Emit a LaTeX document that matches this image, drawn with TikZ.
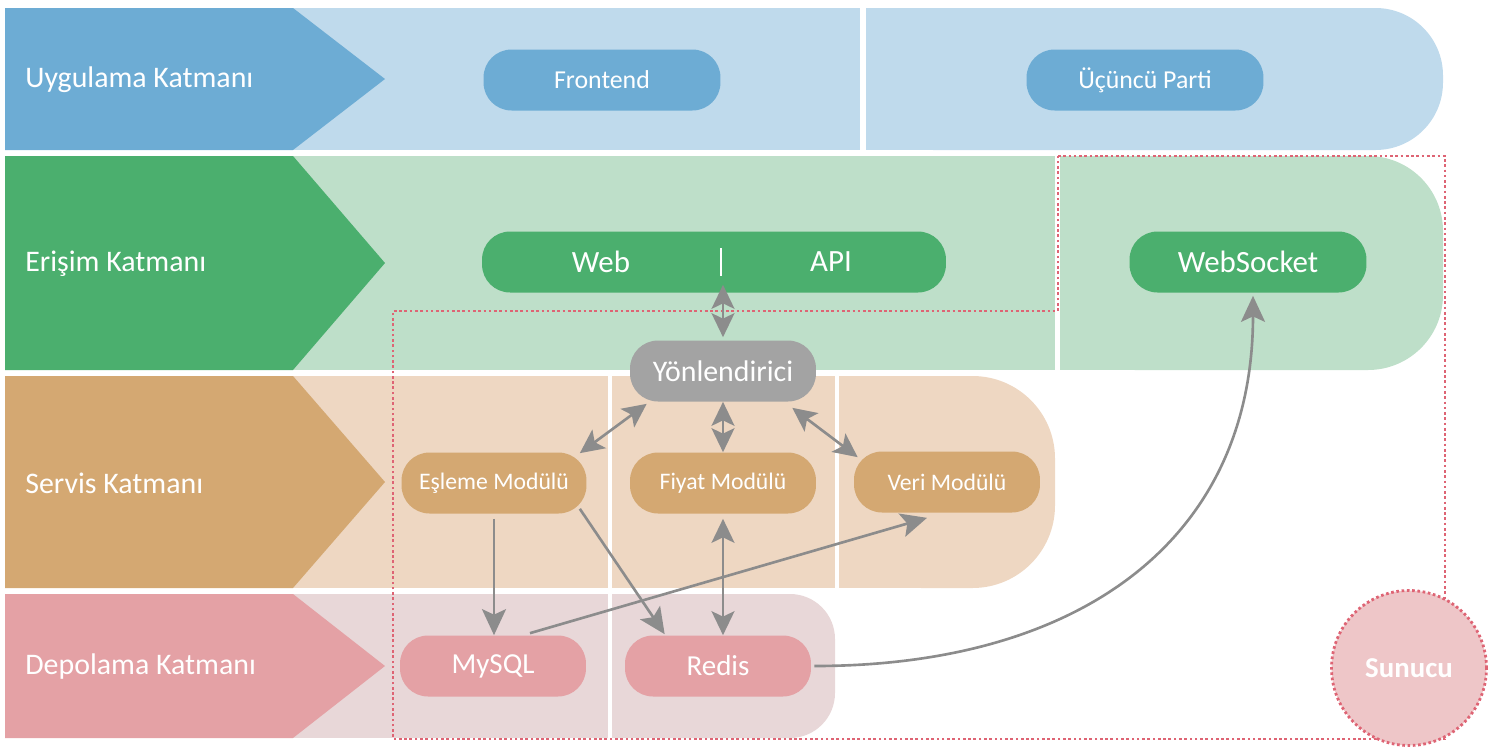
\documentclass[tikz,border=0pt]{standalone}
\usepackage{fontspec}
\setmainfont{Carlito}
\usetikzlibrary{arrows.meta}

\definecolor{appdark}{HTML}{6DACD4}
\definecolor{applight}{HTML}{BFDAEC}
\definecolor{accdark}{HTML}{4BAF6E}
\definecolor{acclight}{HTML}{BEDFC9}
\definecolor{srvdark}{HTML}{D4A872}
\definecolor{srvlight}{HTML}{EED7C2}
\definecolor{stodark}{HTML}{E4A1A5}
\definecolor{stolight}{HTML}{E8D7D8}
\definecolor{routgray}{HTML}{A3A3A3}
\definecolor{arrowgray}{HTML}{8C8C8C}
\definecolor{dotred}{HTML}{DE6474}
\definecolor{hostfill}{HTML}{EEC6C8}

\begin{document}
\begin{tikzpicture}[x=0.02cm,y=-0.02cm]
        \tikzset{lyrtext/.style={anchor=west, inner sep=0pt, text=white, font=\fontsize{17}{20}\selectfont}};
        \tikzset{pill/.style={rounded corners=0.56cm, minimum height=1.22cm, inner sep=0pt, text=white}};
        \tikzset{conn/.style={draw=arrowgray, line width=1.5pt, -{Stealth[length=0.52cm,width=0.48cm,inset=0.11cm]}}};
        \tikzset{biconn/.style={draw=arrowgray, line width=1.5pt, {Stealth[length=0.48cm,width=0.46cm,inset=0.11cm]}-{Stealth[length=0.48cm,width=0.46cm,inset=0.11cm]}}};
        \tikzset{hostline/.style={draw=dotred, line width=1.6pt, dash pattern=on 1.5pt off 1.5pt}};
        \useasboundingbox (0,0) rectangle (1502,748);

        % layer bands
        \fill[applight] (293,8) rectangle (860,150);
        \fill[applight, rounded corners=1.35cm] (866,8) rectangle (1443,150);
        \fill[applight] (866,8) rectangle (1200,150);
        \fill[appdark] (5,8) -- (293,8) -- (385,79) -- (293,150) -- (5,150) -- cycle;

        \fill[acclight] (293,156) rectangle (1055,370);
        \fill[acclight, rounded corners=1.5cm] (1060,156) rectangle (1443,370);
        \fill[acclight] (1060,156) rectangle (1250,370);
        \fill[accdark] (5,156) -- (293,156) -- (385,263) -- (293,370) -- (5,370) -- cycle;

        \fill[srvlight] (293,376) rectangle (608,588);
        \fill[srvlight] (612,376) rectangle (835,588);
        \fill[srvlight, rounded corners=1.65cm] (839,376) rectangle (1055,588);
        \fill[srvlight] (839,376) rectangle (940,588);
        \fill[srvdark] (5,376) -- (293,376) -- (385,482) -- (293,588) -- (5,588) -- cycle;

        \fill[stolight] (293,594) rectangle (608,738);
        \fill[stolight, rounded corners=0.9cm] (612,594) rectangle (835,738);
        \fill[stolight] (612,594) rectangle (720,738);
        \fill[stodark] (5,594) -- (293,594) -- (385,666) -- (293,738) -- (5,738) -- cycle;

        \node[lyrtext] (lapp) at (25,80) {Uygulama Katmanı};
        \node[lyrtext] (lacc) at (25,264) {Erişim Katmanı};
        \node[lyrtext] (lsrv) at (25,483) {Servis Katmanı};
        \node[lyrtext] (lsto) at (25,667) {Depolama Katmanı};

        % server boundary
        \draw[hostline] (1058,156) -- (1445,156) -- (1445,739) -- (393,739) -- (393,311) -- (1058,311) -- cycle;

        % modules
        \node[pill, fill=appdark, minimum width=4.74cm, font=\fontsize{14.7}{17}\selectfont] (front) at (602,80) {Frontend};
        \node[pill, fill=appdark, minimum width=4.74cm, font=\fontsize{14.7}{17}\selectfont] (third) at (1145,80) {Üçüncü Parti};

        \node[pill, fill=accdark, minimum width=9.28cm] (webapi) at (714,262) {};
        \node[text=white, font=\fontsize{17.6}{20}\selectfont] (web) at (601,262) {Web};
        \node[text=white, font=\fontsize{17.6}{20}\selectfont] (api) at (831,262) {API};
        \draw[white, line width=1.6pt] (721,248) -- (721,276);
        \node[pill, fill=accdark, minimum width=4.74cm, font=\fontsize{17.6}{20}\selectfont] (wsock) at (1248,262) {WebSocket};

        \node[pill, fill=routgray, minimum width=3.72cm, font=\fontsize{17}{20}\selectfont] (yon) at (723,371) {Yönlendirici};

        \node[pill, fill=srvdark, minimum width=3.7cm, font=\fontsize{13.5}{16}\selectfont] (esl) at (494,483) {Eşleme Modülü};
        \node[pill, fill=srvdark, minimum width=3.72cm, font=\fontsize{13.5}{16}\selectfont] (fiy) at (723,483) {Fiyat Modülü};
        \node[pill, fill=srvdark, minimum width=3.72cm, font=\fontsize{13.5}{16}\selectfont] (veri) at (947,482) {Veri Modülü};

        \node[pill, fill=stodark, minimum width=3.72cm, font=\fontsize{16.5}{19}\selectfont] (mysql) at (493,666) {MySQL};
        \node[pill, fill=stodark, minimum width=3.72cm, font=\fontsize{16.5}{19}\selectfont] (redis) at (718,666) {Redis};

        \node[circle, fill=hostfill, hostline,
              minimum size=3.1cm, text=white, font=\bfseries\fontsize{16.4}{19}\selectfont] (host) at (1409,668) {Sunucu};

        % connections
        \draw[biconn] ([yshift=0.06cm]yon.north) -- ([yshift=0.16cm]yon.north |- webapi.south);
        \draw[biconn] ([shift={(17,2)}]yon.south west) -- ([shift={(-7,1)}]esl.north east);
        \draw[biconn] (yon.south) -- (fiy.north);
        \draw[biconn] ([shift={(-24,6)}]yon.south east) -- ([shift={(4,6)}]veri.north west);

        \draw[conn] ([yshift=-0.1cm]esl.south) -- (esl.south |- mysql.north);
        \draw[conn] ([shift={(-7,-5)}]esl.south east) -- ([shift={(40,-1)}]redis.north west);
        \draw[biconn] ([yshift=-0.1cm]fiy.south) -- (fiy.south |- redis.north);
        \draw[conn] ([shift={(37,-2)}]mysql.north) -- ([shift={(-20,5)}]veri.south);
        \draw[conn] ([xshift=0.06cm]redis.east) .. controls (1080,666) and (1253,540) .. ([yshift=-0.06cm]wsock.south -| 1253,0);
\end{tikzpicture}
\end{document}
